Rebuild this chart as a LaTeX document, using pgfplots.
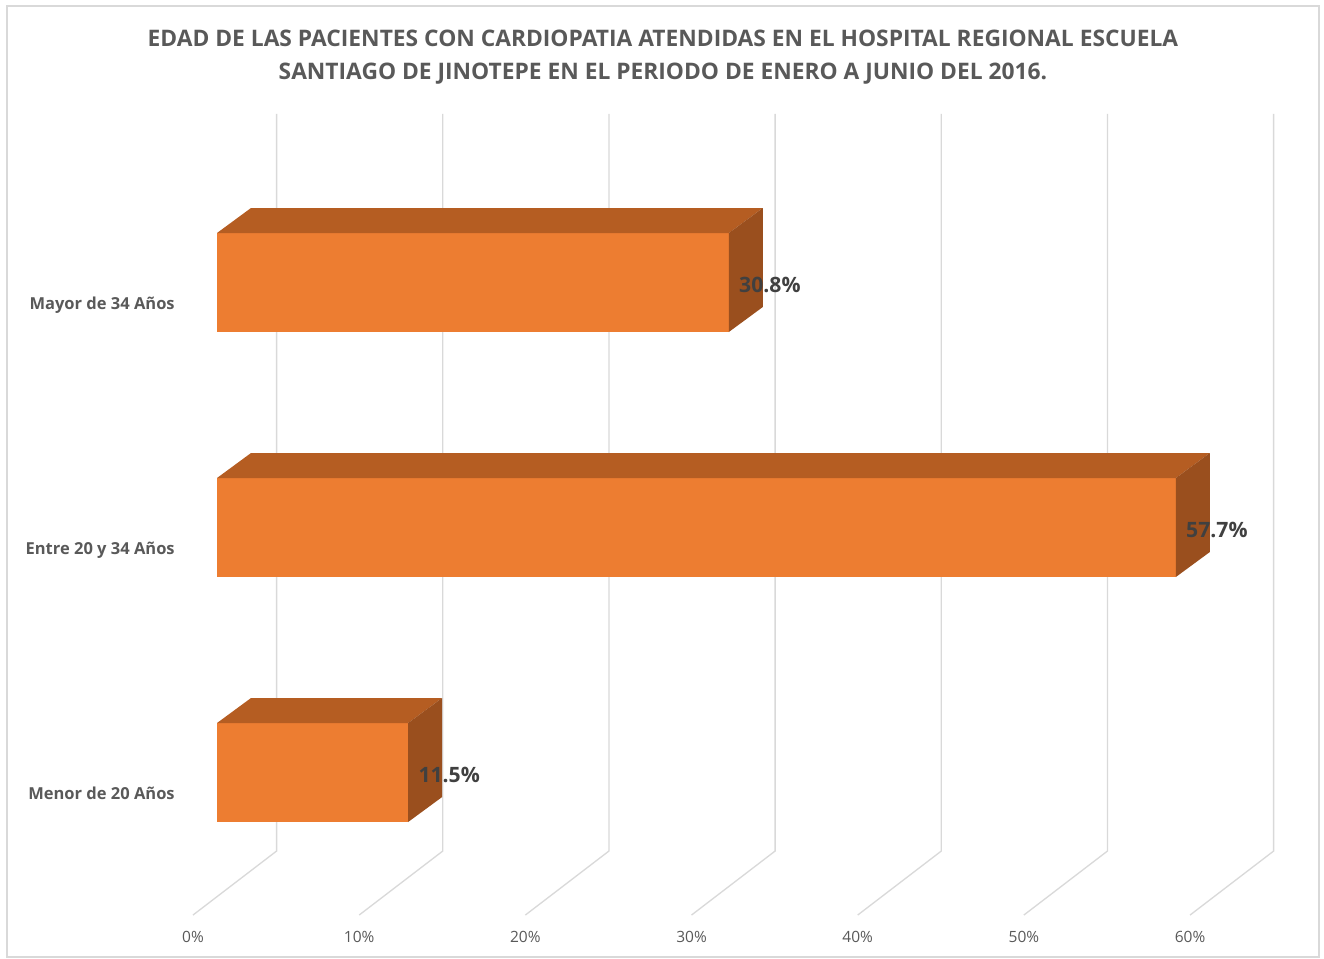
\documentclass[border=0pt]{standalone}
\usepackage{pgfplots}
\pgfplotsset{compat=1.18}
\usepackage{fontspec}
\setmainfont{Open Sans}
\definecolor{front}{HTML}{ED7D31}
\definecolor{topf}{HTML}{B55D22}
\definecolor{sidef}{HTML}{9A4F1E}
\definecolor{gridc}{HTML}{D9D9D9}
\definecolor{txt}{HTML}{595959}
\definecolor{lbl}{HTML}{404040}
\begin{document}
\begin{tikzpicture}
\begin{axis}[
  width=598.2pt, height=480pt, scale only axis,
  xmin=0, xmax=60, ymin=115, ymax=915, y dir=reverse,
  clip=false,
  axis line style={draw=none},
  major tick length=0pt,
  xtick={0,10,20,30,40,50,60},
  xticklabels={0\%,10\%,20\%,30\%,40\%,50\%,60\%},
  xticklabel style={anchor=base, yshift=-16.2pt, font=\fontsize{9.3}{11}\selectfont, text=txt},
  ytick={309,554,799},
  yticklabels={Mayor de 34 Años,Entre 20 y 34 Años,Menor de 20 Años},
  yticklabel style={anchor=base east, inner sep=0pt, xshift=-10.8pt, font=\bfseries\fontsize{9.9}{12}\selectfont, text=txt},
]
% bounding box and chart border
\path (axis cs:-11.615,0) rectangle (axis cs:68.06,958);
\draw[gridc, line width=0.9pt] (axis cs:-11.19,6) rectangle (axis cs:67.76,957);
% gridlines (floor diagonal + back wall)
\addplot[gridc, line width=0.8pt] coordinates {(0,915) (5.03,851) (5.03,114)};
\addplot[gridc, line width=0.8pt] coordinates {(10,915) (15.03,851) (15.03,114)};
\addplot[gridc, line width=0.8pt] coordinates {(20,915) (25.03,851) (25.03,114)};
\addplot[gridc, line width=0.8pt] coordinates {(30,915) (35.03,851) (35.03,114)};
\addplot[gridc, line width=0.8pt] coordinates {(40,915) (45.03,851) (45.03,114)};
\addplot[gridc, line width=0.8pt] coordinates {(50,915) (55.03,851) (55.03,114)};
\addplot[gridc, line width=0.8pt] coordinates {(60,915) (65.03,851) (65.03,114)};
% Mayor de 34 Anos: 30.8
\addplot[fill=front, draw=none] coordinates {(1.444,233) (32.244,233) (32.244,332) (1.444,332)} --cycle;
\addplot[fill=topf, draw=none] coordinates {(1.444,233) (32.244,233) (34.29,208) (3.49,208)} --cycle;
\addplot[fill=sidef, draw=none] coordinates {(32.244,233) (34.29,208) (34.29,307) (32.244,332)} --cycle;
% Entre 20 y 34 Anos: 57.7
\addplot[fill=front, draw=none] coordinates {(1.444,478) (59.144,478) (59.144,577) (1.444,577)} --cycle;
\addplot[fill=topf, draw=none] coordinates {(1.444,478) (59.144,478) (61.19,453) (3.49,453)} --cycle;
\addplot[fill=sidef, draw=none] coordinates {(59.144,478) (61.19,453) (61.19,552) (59.144,577)} --cycle;
% Menor de 20 Anos: 11.5
\addplot[fill=front, draw=none] coordinates {(1.444,723) (12.944,723) (12.944,822) (1.444,822)} --cycle;
\addplot[fill=topf, draw=none] coordinates {(1.444,723) (12.944,723) (14.99,698) (3.49,698)} --cycle;
\addplot[fill=sidef, draw=none] coordinates {(12.944,723) (14.99,698) (14.99,797) (12.944,822)} --cycle;
% data labels
\node[anchor=west, inner sep=0pt, text=lbl, font=\bfseries\fontsize{12.7}{14}\selectfont] at (axis cs:32.85,285) {30.8\%};
\node[anchor=west, inner sep=0pt, text=lbl, font=\bfseries\fontsize{12.7}{14}\selectfont] at (axis cs:59.75,530) {57.7\%};
\node[anchor=west, inner sep=0pt, text=lbl, font=\bfseries\fontsize{12.7}{14}\selectfont] at (axis cs:13.55,775) {11.5\%};
% title
\node[anchor=center, align=center, text=txt, font=\bfseries\fontsize{13.67}{19.8}\selectfont] at (axis cs:28.28,57.5) {EDAD DE LAS PACIENTES CON CARDIOPATIA ATENDIDAS EN EL HOSPITAL REGIONAL ESCUELA\\SANTIAGO DE JINOTEPE EN EL PERIODO DE ENERO A JUNIO DEL 2016.};
\end{axis}
\end{tikzpicture}
\end{document}
